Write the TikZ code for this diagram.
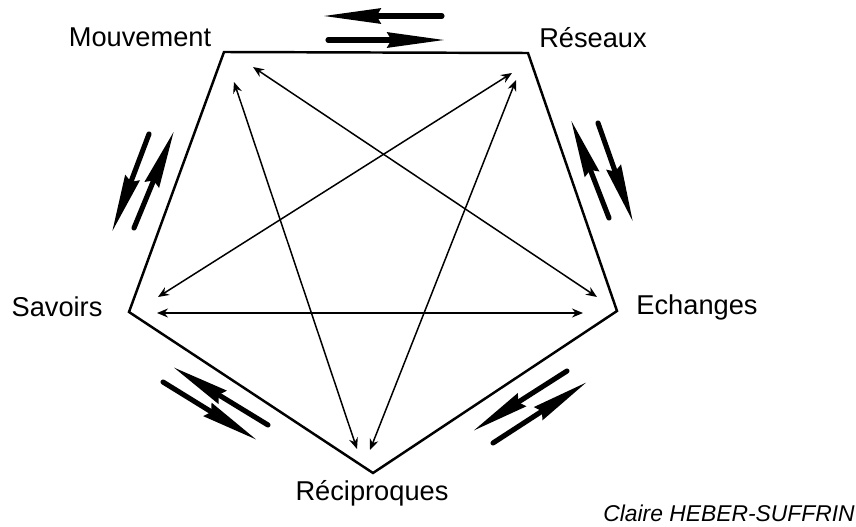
\documentclass[tikz,border=0pt]{standalone}
\usepackage{fontspec}
\setmainfont{Liberation Sans}
\usetikzlibrary{arrows.meta}

\tikzset{
  lab/.style={font=\fontsize{15.5}{18}\selectfont, inner sep=0pt},
  lien/.style={line width=0.85pt, {Stealth[length=2.2mm,width=1.8mm]}-{Stealth[length=2.2mm,width=1.8mm]}},
  flux/.style={line width=2.9pt, line cap=round, -{Stealth[length=1.15cm,width=0.3cm,inset=0.8mm]}},
}

\begin{document}
\begin{tikzpicture}[x=0.02cm,y=-0.02cm]
\useasboundingbox (0,0) rectangle (856,527);

% sommets du pentagone
\coordinate (M) at (224,52);
\coordinate (R) at (528,53);
\coordinate (E) at (617,311);
\coordinate (C) at (373,473);
\coordinate (S) at (129,312);
\draw[line width=1.4pt, line join=miter] (M)--(R)--(E)--(C)--(S)--cycle;

% etoile
\coordinate (s1) at (157,313); \coordinate (e1) at (583,313);
\coordinate (s2) at (158,297); \coordinate (r2) at (512,73);
\coordinate (m3) at (253,67);  \coordinate (e3) at (597,297);
\coordinate (m4) at (234,82);  \coordinate (c4) at (357,449);
\coordinate (r5) at (516,80);  \coordinate (c5) at (370,450);
\draw[lien] (s1)--(e1);
\draw[lien] (s2)--(r2);
\draw[lien] (m3)--(e3);
\draw[lien] (m4)--(c4);
\draw[lien] (r5)--(c5);

% fleches des cotes
\coordinate (h1) at (442,16); \coordinate (h2) at (323,16);
\coordinate (h3) at (328,40); \coordinate (h4) at (445,40);
\draw[flux] (h1)--(h2);
\draw[flux] (h3)--(h4);

\coordinate (g1) at (149,134); \coordinate (g2) at (112,232);
\coordinate (g3) at (134,228); \coordinate (g4) at (174,131);
\draw[flux] (g1)--(g2);
\draw[flux] (g3)--(g4);

\coordinate (d1) at (609,218); \coordinate (d2) at (571,120);
\coordinate (d3) at (598,123); \coordinate (d4) at (633,222);
\draw[flux] (d1)--(d2);
\draw[flux] (d3)--(d4);

\coordinate (b1) at (268,425); \coordinate (b2) at (173,367);
\coordinate (b3) at (163,382); \coordinate (b4) at (257,440);
\draw[flux] (b1)--(b2);
\draw[flux] (b3)--(b4);

\coordinate (k1) at (567,371); \coordinate (k2) at (473,431);
\coordinate (k3) at (493,443); \coordinate (k4) at (587,382);
\draw[flux] (k1)--(k2);
\draw[flux] (k3)--(k4);

% etiquettes
\node[lab] (mouv) at (140,37) {Mouvement};
\node[lab] (res) at (593,38) {Réseaux};
\node[lab] (sav) at (57,307) {Savoirs};
\node[lab] (ech) at (697,307) {Echanges};
\node[lab] (rec) at (372,493) {Réciproques};
\node[font=\fontsize{13}{15}\selectfont\itshape, inner sep=0pt, anchor=east] (aut) at (855,513) {Claire HEBER-SUFFRIN};
\end{tikzpicture}
\end{document}
